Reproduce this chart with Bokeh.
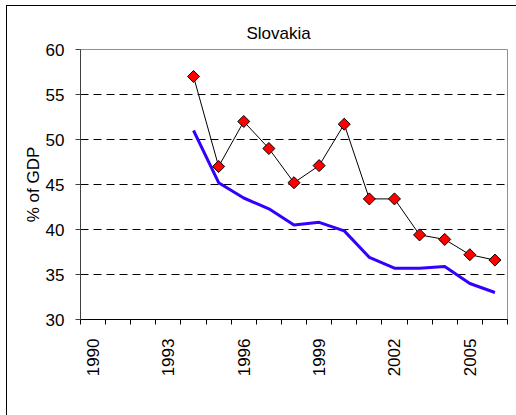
import math
from bokeh.plotting import figure
from bokeh.models import FixedTicker, Range1d, Legend, LegendItem, Title
from bokeh.embed import file_html
from bokeh.resources import INLINE

years = list(range(1994, 2007))
rev = [51.0, 45.2, 43.5, 42.3, 40.5, 40.8, 39.85, 36.9, 35.7, 35.7, 35.9, 34.0, 33.0]
exp = [57.0, 47.0, 52.0, 49.0, 45.2, 47.1, 51.7, 43.4, 43.4, 39.4, 38.9, 37.2, 36.6]
tick_years = [1990, 1993, 1996, 1999, 2002, 2005]
y_ticks = [30, 35, 40, 45, 50, 55, 60]

FONT = "Liberation Sans"

p = figure(frame_width=427, frame_height=270, output_backend="svg", toolbar_location=None,
           x_range=Range1d(1989.5, 2006.5), y_range=Range1d(30, 60),
           min_border_left=73, min_border_right=9, min_border_top=43, min_border_bottom=20)
p.styles = {"border": "1px solid black", "margin-left": "6px", "margin-top": "5px"}

title = Title(text="Slovakia", align="left", offset=166, text_font=FONT,
              text_font_size="17px", text_font_style="normal", text_color="black", standoff=13)
p.add_layout(title, "above")

p.outline_line_color = "#909090"
p.outline_line_width = 1

# x axis
p.xaxis.ticker = FixedTicker(ticks=tick_years, minor_ticks=[1989.5 + i for i in range(18)])
p.xaxis.major_tick_out = 0
p.xaxis.major_tick_in = 0
p.xaxis.minor_tick_out = 5
p.xaxis.minor_tick_in = 0
p.xaxis.minor_tick_line_color = "black"
p.xaxis.axis_line_color = "black"
p.xaxis.major_label_orientation = math.pi / 2
p.xaxis.major_label_standoff = 14
p.xaxis.major_label_text_font = FONT
p.xaxis.major_label_text_font_size = "17px"
p.xaxis.major_label_text_color = "black"

# y axis
p.yaxis.ticker = FixedTicker(ticks=y_ticks)
p.yaxis.major_tick_out = 5
p.yaxis.major_tick_in = 0
p.yaxis.minor_tick_out = 0
p.yaxis.minor_tick_in = 0
p.yaxis.axis_line_color = "#404040"
p.yaxis.major_tick_line_color = "#404040"
p.yaxis.major_label_standoff = 11
p.yaxis.major_label_text_font = FONT
p.yaxis.major_label_text_font_size = "17px"
p.yaxis.major_label_text_color = "black"
p.yaxis.axis_label = "% of GDP"
p.yaxis.axis_label_text_font = FONT
p.yaxis.axis_label_text_font_size = "17px"
p.yaxis.axis_label_text_font_style = "normal"
p.yaxis.axis_label_text_color = "black"
p.yaxis.axis_label_standoff = 0

p.xgrid.visible = False
p.ygrid.ticker = FixedTicker(ticks=[35, 40, 45, 50, 55])
p.ygrid.grid_line_color = "black"
p.ygrid.grid_line_dash = "8 5"
p.ygrid.grid_line_width = 1

r_rev = p.line(years, rev, line_color="#3300FF", line_width=3)
r_exp_line = p.line(years, exp, line_color="black", line_width=1)
r_exp_pts = p.scatter(years, exp, marker="square", angle=math.pi / 4, size=8.5,
                      fill_color="#FF0000", line_color="black", line_width=1)

legend = Legend(items=[LegendItem(label="Rev", renderers=[r_rev], index=0),
                       LegendItem(label="Exp", renderers=[r_exp_line, r_exp_pts], index=0)],
                orientation="horizontal", location="center",
                glyph_width=48, glyph_height=20, label_standoff=4, spacing=30,
                padding=3, margin=3, border_line_color="black", border_line_width=1,
                label_text_font=FONT, label_text_font_size="17px", label_text_color="black",
                background_fill_alpha=1)
p.add_layout(legend, "below")

open("out.html", "w").write(file_html(p, INLINE))
